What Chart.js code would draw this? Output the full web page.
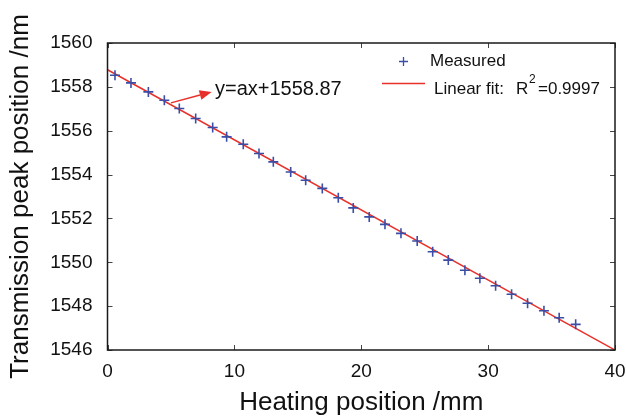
<!DOCTYPE html>
<html><head><meta charset="utf-8">
<script src="https://cdn.jsdelivr.net/npm/chart.js@4"></script>
<style>html,body{margin:0;padding:0;background:#fff}</style>
</head><body>
<canvas id="c" width="626" height="416" style="width:626px;height:416px;display:block"></canvas>
<script>
// ---- data ----
const measuredX = [0.59, 1.85, 3.22, 4.48, 5.66, 6.95, 8.29, 9.39, 10.70, 11.94,
                   13.07, 14.44, 15.62, 16.93, 18.19, 19.37, 20.63, 21.87, 23.13, 24.41,
                   25.63, 26.86, 28.17, 29.35, 30.59, 31.85, 33.11, 34.40, 35.60, 36.90];
const measuredY = [1558.53, 1558.18, 1557.77, 1557.39, 1557.01, 1556.56, 1556.15, 1555.72, 1555.38, 1554.96,
                   1554.58, 1554.12, 1553.74, 1553.37, 1552.94, 1552.48, 1552.07, 1551.73, 1551.32, 1550.97,
                   1550.48, 1550.10, 1549.64, 1549.27, 1548.93, 1548.54, 1548.13, 1547.79, 1547.47, 1547.17];
const fitX = [0, 40];
const fitY = [1558.78, 1546.0];
const xTicks = [0, 10, 20, 30, 40];
const yTicks = [1546, 1548, 1550, 1552, 1554, 1556, 1558, 1560];
const seriesNames = ['Measured', 'Linear fit:'];
const fitNote = 'y=ax+1558.87';
const r2Text = '=0.9997';
// annotation arrow in data units: tail, head
const arrowFrom = [5.0, 1557.27];
const arrowTo = [8.21, 1557.77];
const notePos = [8.47, 1557.88];

const FONT = '"Liberation Sans", Arial, Helvetica, sans-serif';
const BLUE = '#3a4ea8';
const RED = '#e8302a';

const measured = measuredX.map((x, i) => ({x, y: measuredY[i]}));
const fit = fitX.map((x, i) => ({x, y: fitY[i]}));

const decor = {
  id: 'decor',
  afterDraw(chart) {
    const ctx = chart.ctx, ca = chart.chartArea;
    const xs = chart.scales.x, ys = chart.scales.y;
    ctx.save();
    // ticks inward on all sides
    ctx.strokeStyle = '#444';
    ctx.lineWidth = 1;
    ctx.beginPath();
    xTicks.forEach(v => {
      const p = Math.round(xs.getPixelForValue(v)) + 0.5;
      ctx.moveTo(p, ca.bottom); ctx.lineTo(p, ca.bottom - 5);
      ctx.moveTo(p, ca.top); ctx.lineTo(p, ca.top + 5);
    });
    yTicks.forEach(v => {
      const p = Math.round(ys.getPixelForValue(v)) + 0.5;
      ctx.moveTo(ca.left, p); ctx.lineTo(ca.left + 5, p);
      ctx.moveTo(ca.right, p); ctx.lineTo(ca.right - 5, p);
    });
    ctx.stroke();
    // box
    ctx.strokeStyle = '#1a1a1a';
    ctx.lineWidth = 1.5;
    ctx.strokeRect(ca.left, ca.top, ca.right - ca.left, ca.bottom - ca.top);

    // arrow annotation
    const x1 = xs.getPixelForValue(arrowFrom[0]), y1 = ys.getPixelForValue(arrowFrom[1]);
    const x2 = xs.getPixelForValue(arrowTo[0]), y2 = ys.getPixelForValue(arrowTo[1]);
    const ang = Math.atan2(y2 - y1, x2 - x1);
    const hl = 12, hw = 5;
    const bx = x2 - hl * Math.cos(ang), by = y2 - hl * Math.sin(ang);
    ctx.strokeStyle = RED; ctx.fillStyle = RED; ctx.lineWidth = 1.5;
    ctx.beginPath(); ctx.moveTo(x1, y1); ctx.lineTo(bx, by); ctx.stroke();
    ctx.beginPath();
    ctx.moveTo(x2, y2);
    ctx.lineTo(bx + hw * Math.sin(ang), by - hw * Math.cos(ang));
    ctx.lineTo(bx - hw * Math.sin(ang), by + hw * Math.cos(ang));
    ctx.closePath(); ctx.fill();
    ctx.fillStyle = '#111';
    ctx.font = '20px ' + FONT;
    ctx.textAlign = 'left'; ctx.textBaseline = 'middle';
    ctx.fillText(fitNote, xs.getPixelForValue(notePos[0]), ys.getPixelForValue(notePos[1]));

    // legend
    ctx.font = '17px ' + FONT;
    ctx.strokeStyle = BLUE; ctx.lineWidth = 1.3;
    const mx = 403.5, my = 61.5;
    ctx.beginPath();
    ctx.moveTo(mx - 4.5, my); ctx.lineTo(mx + 4.5, my);
    ctx.moveTo(mx, my - 4.5); ctx.lineTo(mx, my + 4.5);
    ctx.stroke();
    ctx.fillStyle = '#111';
    ctx.fillText(seriesNames[0], 430, my);
    ctx.strokeStyle = RED; ctx.lineWidth = 1.5;
    ctx.beginPath(); ctx.moveTo(382, 83.5); ctx.lineTo(425, 83.5); ctx.stroke();
    const ty = 89;
    ctx.fillText(seriesNames[1], 434, ty);
    ctx.fillText('R', 516, ty);
    ctx.font = '12px ' + FONT;
    ctx.fillText('2', 529, ty - 9);
    ctx.font = '17px ' + FONT;
    ctx.fillText(r2Text, 538, ty);
    ctx.restore();
  }
};

new Chart(document.getElementById('c'), {
  type: 'scatter',
  data: {
    datasets: [
      {
        label: seriesNames[1],
        type: 'line',
        data: fit,
        borderColor: RED,
        borderWidth: 1.5,
        pointRadius: 0,
        fill: false,
        order: 2
      },
      {
        label: seriesNames[0],
        data: measured,
        pointStyle: 'cross',
        pointRadius: 5,
        borderColor: BLUE,
        backgroundColor: BLUE,
        pointBorderWidth: 1.6,
        order: 1
      }
    ]
  },
  options: {
    responsive: false,
    animation: false,
    devicePixelRatio: 1,
    layout: {padding: {left: 0, top: 43, right: 11, bottom: 0}},
    plugins: {legend: {display: false}, tooltip: {enabled: false}},
    scales: {
      x: {
        type: 'linear', min: 0, max: 40,
        afterBuildTicks: s => { s.ticks = xTicks.map(v => ({value: v})); },
        afterFit: s => { s.height = 66; s.paddingLeft = 0; s.paddingRight = 0; },
        grid: {display: false, drawTicks: false},
        border: {display: false},
        ticks: {font: {size: 19, family: FONT}, color: '#111', padding: 10, maxRotation: 0, callback: v => String(v)},
        title: {display: true, text: 'Heating position /mm', font: {size: 26, family: FONT}, color: '#111', padding: {top: 0, bottom: -2.5}}
      },
      y: {
        type: 'linear', min: 1546, max: 1560,
        afterBuildTicks: s => { s.ticks = yTicks.map(v => ({value: v})); },
        afterFit: s => { s.width = 107.5; s.paddingTop = 0; s.paddingBottom = 0; },
        grid: {display: false, drawTicks: false},
        border: {display: false},
        ticks: {font: {size: 19, family: FONT}, color: '#111', padding: 15, callback: v => String(v)},
        title: {display: true, text: 'Transmission peak position /nm', font: {size: 26, family: FONT}, color: '#111', padding: {top: 5.5, bottom: 0}}
      }
    }
  },
  plugins: [decor]
});
</script>
</body></html>
